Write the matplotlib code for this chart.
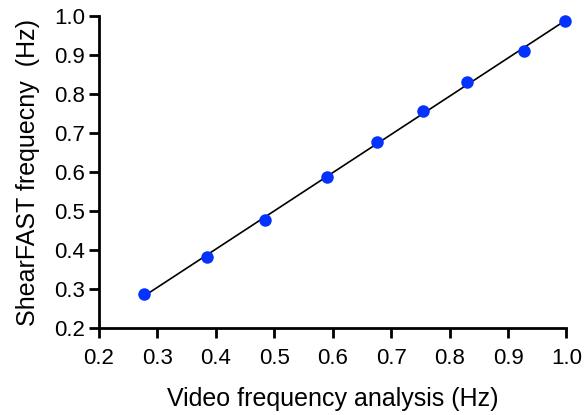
import numpy as np
from matplotlib import pyplot as plt

plt.rcParams['font.family'] = ['Liberation Sans', 'DejaVu Sans']

video_hz = [0.277, 0.385, 0.484, 0.590, 0.675, 0.755, 0.830, 0.928, 0.997]
shearfast_hz = [0.288, 0.383, 0.477, 0.586, 0.677, 0.757, 0.831, 0.910, 0.986]
ticks = [0.2, 0.3, 0.4, 0.5, 0.6, 0.7, 0.8, 0.9, 1.0]

fig = plt.figure(figsize=(5.84, 4.15), dpi=100)
ax = fig.add_axes([0.1695, 0.209, 0.8005, 0.753])

# linear fit
slope, icept = np.polyfit(video_hz, shearfast_hz, 1)
xfit = np.array([min(video_hz), max(video_hz)])
ax.plot(xfit, slope * xfit + icept, color='black', lw=1.2, zorder=2)
ax.plot(video_hz, shearfast_hz, 'o', color='#0433FF', ms=9, mec='none', zorder=3,
        clip_on=False)

ax.set_xlim(0.2, 1.0)
ax.set_ylim(0.2, 1.0)
ax.set_xticks(ticks)
ax.set_yticks(ticks)
ax.set_xticklabels([f'{t:.1f}' for t in ticks])
ax.set_yticklabels([f'{t:.1f}' for t in ticks])

for s in ['top', 'right']:
    ax.spines[s].set_visible(False)
for s in ['left', 'bottom']:
    ax.spines[s].set_linewidth(2)
ax.tick_params(direction='out', length=7, width=2, labelsize=16)
ax.tick_params(axis='x', pad=7)
ax.tick_params(axis='y', pad=3)

ax.set_xlabel('Video frequency analysis (Hz)', fontsize=18, labelpad=13)
ax.set_ylabel('ShearFAST frequecny  (Hz)', fontsize=18, labelpad=10)

fig.savefig('out.png', dpi=100)
